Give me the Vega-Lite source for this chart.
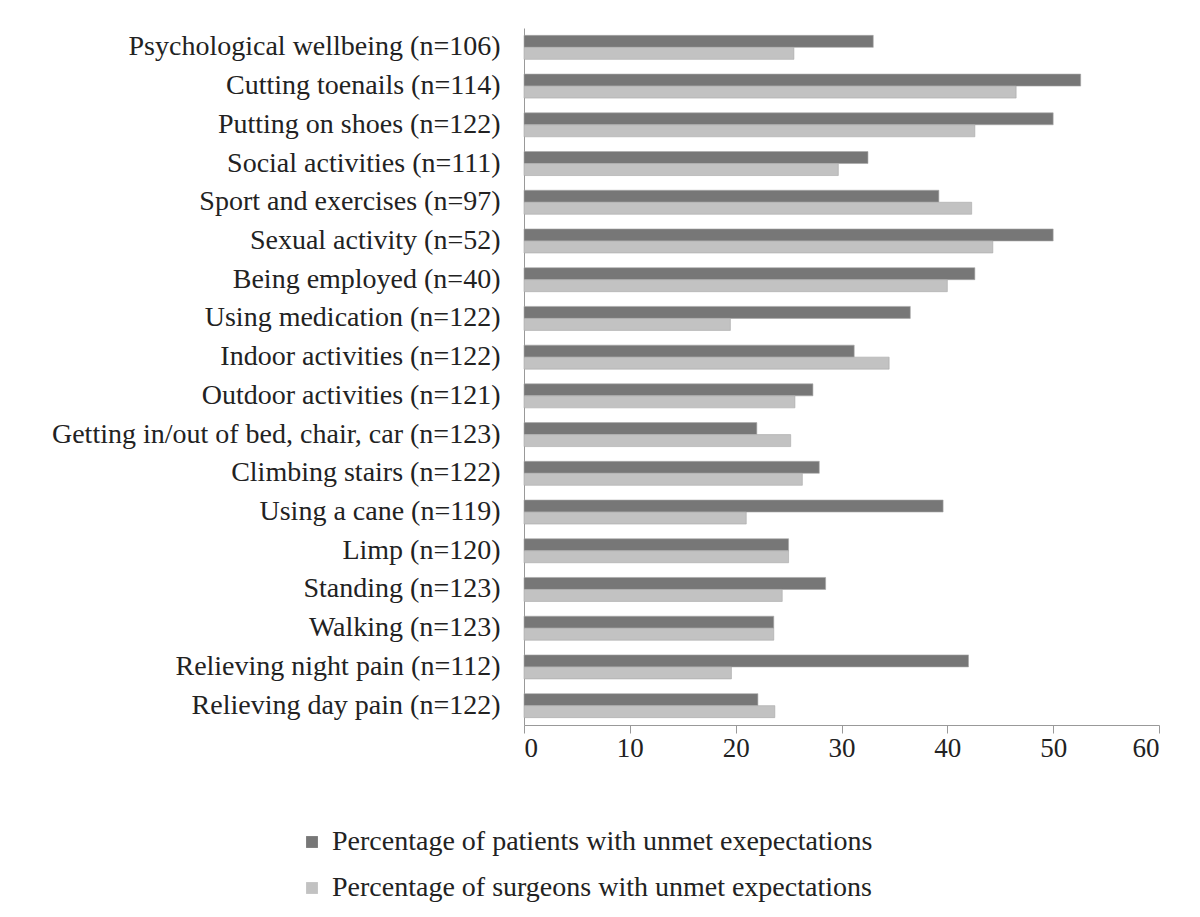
{
  "$schema": "https://vega.github.io/schema/vega-lite/v6.json",
  "autosize": {"type": "none"},
  "width": 635,
  "height": 697,
  "padding": {"left": 524, "top": 28, "right": 41, "bottom": 192},
  "background": "white",
  "config": {
    "view": {"stroke": null},
    "font": "Liberation Serif"
  },
  "data": {
    "values": [
      {"category": "Psychological wellbeing (n=106)", "group": "Percentage of patients with unmet exepectations", "value": 33.0},
      {"category": "Psychological wellbeing (n=106)", "group": "Percentage of surgeons with unmet expectations", "value": 25.5},
      {"category": "Cutting toenails (n=114)", "group": "Percentage of patients with unmet exepectations", "value": 52.6},
      {"category": "Cutting toenails (n=114)", "group": "Percentage of surgeons with unmet expectations", "value": 46.5},
      {"category": "Putting on shoes (n=122)", "group": "Percentage of patients with unmet exepectations", "value": 50.0},
      {"category": "Putting on shoes (n=122)", "group": "Percentage of surgeons with unmet expectations", "value": 42.6},
      {"category": "Social activities (n=111)", "group": "Percentage of patients with unmet exepectations", "value": 32.5},
      {"category": "Social activities (n=111)", "group": "Percentage of surgeons with unmet expectations", "value": 29.7},
      {"category": "Sport and exercises (n=97)", "group": "Percentage of patients with unmet exepectations", "value": 39.2},
      {"category": "Sport and exercises (n=97)", "group": "Percentage of surgeons with unmet expectations", "value": 42.3},
      {"category": "Sexual activity (n=52)", "group": "Percentage of patients with unmet exepectations", "value": 50.0},
      {"category": "Sexual activity (n=52)", "group": "Percentage of surgeons with unmet expectations", "value": 44.3},
      {"category": "Being employed (n=40)", "group": "Percentage of patients with unmet exepectations", "value": 42.6},
      {"category": "Being employed (n=40)", "group": "Percentage of surgeons with unmet expectations", "value": 40.0},
      {"category": "Using medication (n=122)", "group": "Percentage of patients with unmet exepectations", "value": 36.5},
      {"category": "Using medication (n=122)", "group": "Percentage of surgeons with unmet expectations", "value": 19.5},
      {"category": "Indoor activities (n=122)", "group": "Percentage of patients with unmet exepectations", "value": 31.2},
      {"category": "Indoor activities (n=122)", "group": "Percentage of surgeons with unmet expectations", "value": 34.5},
      {"category": "Outdoor activities (n=121)", "group": "Percentage of patients with unmet exepectations", "value": 27.3},
      {"category": "Outdoor activities (n=121)", "group": "Percentage of surgeons with unmet expectations", "value": 25.6},
      {"category": "Getting in/out of bed, chair, car (n=123)", "group": "Percentage of patients with unmet exepectations", "value": 22.0},
      {"category": "Getting in/out of bed, chair, car (n=123)", "group": "Percentage of surgeons with unmet expectations", "value": 25.2},
      {"category": "Climbing stairs (n=122)", "group": "Percentage of patients with unmet exepectations", "value": 27.9},
      {"category": "Climbing stairs (n=122)", "group": "Percentage of surgeons with unmet expectations", "value": 26.3},
      {"category": "Using a cane (n=119)", "group": "Percentage of patients with unmet exepectations", "value": 39.6},
      {"category": "Using a cane (n=119)", "group": "Percentage of surgeons with unmet expectations", "value": 21.0},
      {"category": "Limp (n=120)", "group": "Percentage of patients with unmet exepectations", "value": 25.0},
      {"category": "Limp (n=120)", "group": "Percentage of surgeons with unmet expectations", "value": 25.0},
      {"category": "Standing (n=123)", "group": "Percentage of patients with unmet exepectations", "value": 28.5},
      {"category": "Standing (n=123)", "group": "Percentage of surgeons with unmet expectations", "value": 24.4},
      {"category": "Walking (n=123)", "group": "Percentage of patients with unmet exepectations", "value": 23.6},
      {"category": "Walking (n=123)", "group": "Percentage of surgeons with unmet expectations", "value": 23.6},
      {"category": "Relieving night pain (n=112)", "group": "Percentage of patients with unmet exepectations", "value": 42.0},
      {"category": "Relieving night pain (n=112)", "group": "Percentage of surgeons with unmet expectations", "value": 19.6},
      {"category": "Relieving day pain (n=122)", "group": "Percentage of patients with unmet exepectations", "value": 22.1},
      {"category": "Relieving day pain (n=122)", "group": "Percentage of surgeons with unmet expectations", "value": 23.7}
    ]
  },
  "mark": {"type": "bar", "stroke": "#a8a8a8", "strokeWidth": 0.6},
  "encoding": {
    "y": {
      "field": "category",
      "type": "nominal",
      "sort": null,
      "scale": {"paddingInner": 0.38, "paddingOuter": 0.19},
      "axis": {
        "title": null,
        "ticks": false,
        "domainColor": "#999999",
        "labelFont": "Liberation Serif",
        "labelFontSize": 28,
        "labelColor": "#222222",
        "labelPadding": 24,
        "labelLimit": 600
      }
    },
    "yOffset": {
      "field": "group",
      "type": "nominal",
      "sort": ["Percentage of patients with unmet exepectations", "Percentage of surgeons with unmet expectations"]
    },
    "x": {
      "field": "value",
      "type": "quantitative",
      "scale": {"domain": [0, 60], "nice": false},
      "axis": {
        "title": null,
        "values": [0, 10, 20, 30, 40, 50, 60],
        "grid": false,
        "tickSize": 8,
        "tickColor": "#999999",
        "domainColor": "#999999",
        "labelFont": "Liberation Serif",
        "labelFontSize": 27,
        "labelColor": "#222222",
        "labelPadding": 2
      }
    },
    "color": {
      "field": "group",
      "type": "nominal",
      "sort": ["Percentage of patients with unmet exepectations", "Percentage of surgeons with unmet expectations"],
      "scale": {"range": ["#777777", "#c2c2c2"]},
      "legend": {
        "title": null,
        "orient": "none",
        "legendX": -226,
        "legendY": 800,
        "symbolType": "square",
        "symbolSize": 140,
        "symbolStrokeWidth": 0,
        "labelFont": "Liberation Serif",
        "labelFontSize": 28,
        "labelColor": "#222222",
        "labelOffset": 6,
        "rowPadding": 18,
        "labelLimit": 800
      }
    }
  }
}
